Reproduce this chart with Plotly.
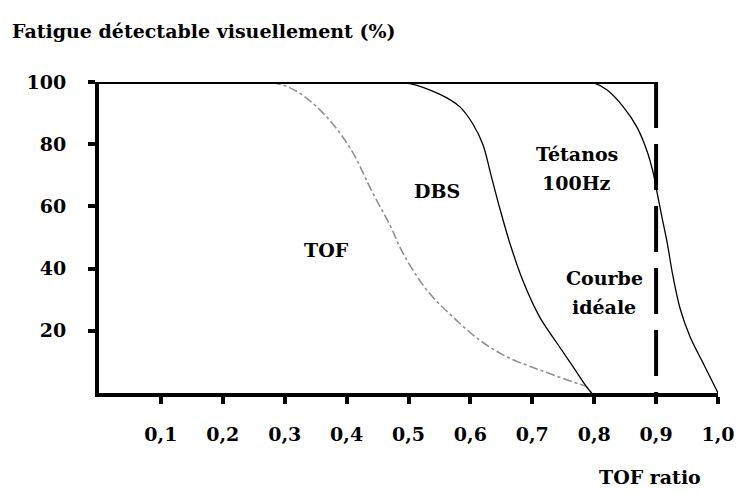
import plotly.graph_objects as go

# curves (x = TOF ratio, y = % fatigue visually detectable)
tof_x = [0.25, 0.29, 0.321, 0.362, 0.405, 0.443, 0.470, 0.491, 0.530, 0.572, 0.615, 0.659, 0.712, 0.766, 0.788, 0.795]
tof_y = [100, 99.4, 96.8, 90, 79, 64, 54, 45, 33, 24.4, 17, 11.6, 7.4, 3.5, 1.9, 0]

dbs_x = [0.47, 0.502, 0.551, 0.583, 0.604, 0.620, 0.634, 0.648, 0.664, 0.685, 0.712, 0.740, 0.766, 0.788, 0.796]
dbs_y = [100, 99.5, 96, 92, 86.5, 80, 69.5, 59, 48, 36, 24.4, 16, 8.4, 1.9, 0]

tet_x = [0.78, 0.800, 0.821, 0.847, 0.869, 0.885, 0.895, 0.901, 0.910, 0.918, 0.927, 0.939, 0.955, 0.976, 0.992, 1.0]
tet_y = [100, 99.6, 97.4, 92, 85.5, 78, 71, 65, 56, 48.2, 37.8, 27, 18, 9.6, 3.2, 0]

# ideal curve: 100 % until TOF ratio 0.9, then drops to 0
ideal_x = [0, 0.9]
ideal_y = [100, 100]
drop_x = [0.9, 0.9]
drop_y = [100, 0]

x_ticks = [0.1, 0.2, 0.3, 0.4, 0.5, 0.6, 0.7, 0.8, 0.9, 1.0]
x_labels = ["0,1", "0,2", "0,3", "0,4", "0,5", "0,6", "0,7", "0,8", "0,9", "1,0"]
y_ticks = [20, 40, 60, 80, 100]
y_labels = ["20", "40", "60", "80", "100"]

serif = "DejaVu Serif"
bold = dict(family=serif, size=19, color="black", weight="bold")

# the page body keeps its default 8px margin, so the figure is 8px smaller
W, H = 735, 485

fig = go.Figure()
fig.add_trace(go.Scatter(x=tof_x, y=tof_y, mode="lines",
                         line=dict(color="#909090", width=1.6, dash="dashdot", shape="spline", smoothing=1.0)))
fig.add_trace(go.Scatter(x=dbs_x, y=dbs_y, mode="lines",
                         line=dict(color="black", width=1.3, shape="spline", smoothing=1.0)))
fig.add_trace(go.Scatter(x=tet_x, y=tet_y, mode="lines",
                         line=dict(color="black", width=1.3, shape="spline", smoothing=1.0)))
fig.add_trace(go.Scatter(x=ideal_x, y=ideal_y, mode="lines", line=dict(color="black", width=4), cliponaxis=False))
fig.add_trace(go.Scatter(x=drop_x, y=drop_y, mode="lines", line=dict(color="black", width=4, dash="46px,16px"),
                         cliponaxis=False))

labels = [
    (0.368, 46, "TOF"),
    (0.546, 65, "DBS"),
    (0.772, 77, "Tétanos"),
    (0.772, 67.5, "100Hz"),
    (0.816, 37, "Courbe"),
    (0.816, 27.5, "idéale"),
]
for lx, ly, txt in labels:
    fig.add_annotation(x=lx, y=ly, text=txt, showarrow=False, font=bold)

# "TOF ratio" sits below the axis, near the right end
fig.add_annotation(x=(650 - 99) / 619, y=-(477 - 393) / 311, xref="paper", yref="paper",
                   text="TOF ratio", showarrow=False, font=bold, xanchor="center", yanchor="middle")

fig.update_layout(
    width=W, height=H,
    margin=dict(l=91, r=25, t=74, b=100, autoexpand=False),
    paper_bgcolor="white", plot_bgcolor="white",
    showlegend=False,
    title=dict(text="Fatigue détectable visuellement (%)", x=4 / W, xanchor="left", xref="container",
               y=1 - 23 / H, yanchor="middle", yref="container", font=bold),
)

fig.update_xaxes(range=[0, 1.0], tickvals=x_ticks, ticktext=x_labels, showgrid=False, zeroline=False,
                 showline=True, linecolor="black", linewidth=4, ticks="outside", ticklen=7, tickwidth=4,
                 tickcolor="black", tickfont=bold, ticklabelstandoff=14, automargin=False)
fig.update_yaxes(range=[0, 100], tickvals=y_ticks, ticktext=y_labels, showgrid=False, zeroline=False,
                 showline=True, linecolor="black", linewidth=4, ticks="outside", ticklen=7, tickwidth=4,
                 tickcolor="black", tickfont=bold, ticklabelstandoff=18, automargin=False)

fig.write_html("out.html")
